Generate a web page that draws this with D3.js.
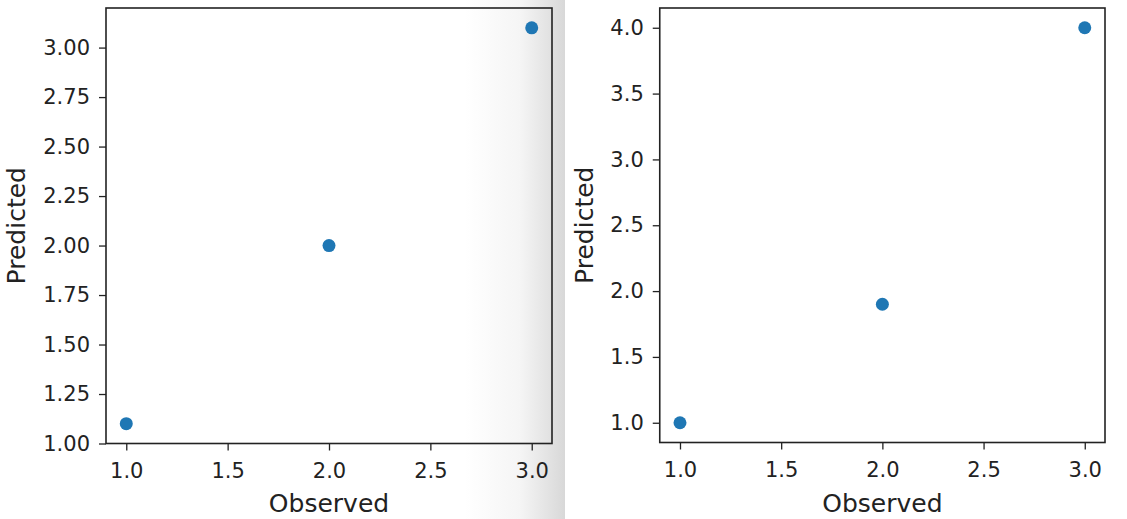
<!DOCTYPE html>
<html>
<head>
<meta charset="utf-8">
<script src="https://cdn.jsdelivr.net/npm/d3@7"></script>
<style>
  body { margin: 0; background: #fff; }
  svg { display: block; font-family: "DejaVu Sans", sans-serif; }
</style>
</head>
<body>
<div id="chart"></div>
<script>
// Data
const observed = [1.0, 2.0, 3.0];
const predictedLeft = [1.1, 2.0, 3.1];
const predictedRight = [1.0, 1.9, 4.0];

// Tick labels
const xTicks = [1.0, 1.5, 2.0, 2.5, 3.0];
const leftYTicks = [1.00, 1.25, 1.50, 1.75, 2.00, 2.25, 2.50, 2.75, 3.00];
const rightYTicks = [1.0, 1.5, 2.0, 2.5, 3.0, 3.5, 4.0];

const W = 1127, H = 519;
const dotColor = "#1f77b4";
const ink = "#222";

const svg = d3.select("#chart")
    .append("svg")
    .attr("width", W)
    .attr("height", H);

// Shadow on the right edge of the left image
const defs = svg.append("defs");
const grad = defs.append("linearGradient")
    .attr("id", "edge-shade")
    .attr("x1", "0%").attr("x2", "100%")
    .attr("y1", "0%").attr("y2", "0%");
grad.append("stop").attr("offset", "0%").attr("stop-color", "#ffffff");
grad.append("stop").attr("offset", "55%").attr("stop-color", "#f5f5f5");
grad.append("stop").attr("offset", "100%").attr("stop-color", "#d8d8d8");

svg.append("rect")
    .attr("x", 465).attr("y", 0)
    .attr("width", 100).attr("height", H)
    .attr("fill", "url(#edge-shade)");

// Panel layout
const panels = [
    {
        left: 106, right: 552, top: 8, bottom: 443.5,
        xDomain: [0.9, 3.1], yDomain: [1.0, 3.2],
        yTicks: leftYTicks, yFormat: ".2f",
        values: predictedLeft, yLabelX: 25
    },
    {
        left: 659.75, right: 1105, top: 8, bottom: 442.5,
        xDomain: [0.9, 3.1], yDomain: [0.85, 4.15],
        yTicks: rightYTicks, yFormat: ".1f",
        values: predictedRight, yLabelX: 593
    }
];

panels.forEach(p => {
    const x = d3.scaleLinear().domain(p.xDomain).range([p.left, p.right]);
    const y = d3.scaleLinear().domain(p.yDomain).range([p.bottom, p.top]);

    const g = svg.append("g");

    // x axis
    const gx = g.append("g")
        .attr("transform", `translate(0, ${p.bottom})`)
        .call(d3.axisBottom(x)
            .tickValues(xTicks)
            .tickFormat(d3.format(".1f"))
            .tickSize(7)
            .tickPadding(13)
            .tickSizeOuter(0));

    // y axis
    const gy = g.append("g")
        .attr("transform", `translate(${p.left}, 0)`)
        .call(d3.axisLeft(y)
            .tickValues(p.yTicks)
            .tickFormat(d3.format(p.yFormat))
            .tickSize(7)
            .tickPadding(9)
            .tickSizeOuter(0));

    [gx, gy].forEach(a => {
        a.select(".domain").remove();
        a.selectAll(".tick line").attr("stroke", ink).attr("stroke-width", 1.3);
        a.selectAll(".tick text")
            .attr("fill", ink)
            .style("font-family", "DejaVu Sans")
            .style("font-size", "21px");
    });

    // frame
    g.append("rect")
        .attr("x", p.left).attr("y", p.top)
        .attr("width", p.right - p.left)
        .attr("height", p.bottom - p.top)
        .attr("fill", "none")
        .attr("stroke", ink)
        .attr("stroke-width", 1.6);

    // points
    g.selectAll("circle")
        .data(observed.map((o, i) => ({o: o, v: p.values[i]})))
        .join("circle")
        .attr("cx", d => x(d.o))
        .attr("cy", d => y(d.v))
        .attr("r", 6.5)
        .attr("fill", dotColor);

    // axis labels
    g.append("text")
        .attr("x", (p.left + p.right) / 2)
        .attr("y", 512)
        .attr("text-anchor", "middle")
        .attr("fill", ink)
        .style("font-size", "25px")
        .text("Observed");

    g.append("text")
        .attr("transform", `translate(${p.yLabelX}, ${(p.top + p.bottom) / 2}) rotate(-90)`)
        .attr("text-anchor", "middle")
        .attr("fill", ink)
        .style("font-size", "25px")
        .text("Predicted");
});
</script>
</body>
</html>
